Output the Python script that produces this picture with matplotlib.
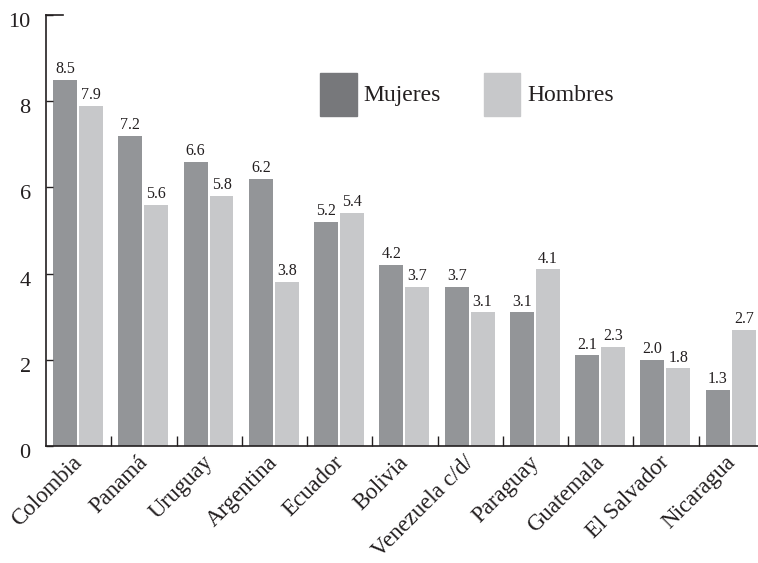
import matplotlib.pyplot as plt
import matplotlib.transforms as mtransforms
import numpy as np
from matplotlib.patches import Patch

plt.rcParams['font.family'] = ['Liberation Serif', 'DejaVu Serif']

paises = ['Colombia', 'Panamá', 'Uruguay', 'Argentina', 'Ecuador', 'Bolivia',
          'Venezuela c/d/', 'Paraguay', 'Guatemala', 'El Salvador', 'Nicaragua']
mujeres = [8.5, 7.2, 6.6, 6.2, 5.2, 4.2, 3.7, 3.1, 2.1, 2.0, 1.3]
hombres = [7.9, 5.6, 5.8, 3.8, 5.4, 3.7, 3.1, 4.1, 2.3, 1.8, 2.7]

c_muj = '#939598'
c_hom = '#c7c8ca'
c_txt = '#231f20'

fig = plt.figure(figsize=(7.58, 5.63), dpi=100)
ax = fig.add_axes([46 / 758, 1 - 446 / 563, 718 / 758, 431 / 563])

x = np.arange(len(paises))
w = 0.367
b1 = ax.bar(x - 0.209, mujeres, w, color=c_muj)
b2 = ax.bar(x + 0.189, hombres, w, color=c_hom)
ax.bar_label(b1, fmt='%.1f', padding=2, fontsize=11.5, color=c_txt)
ax.bar_label(b2, fmt='%.1f', padding=2, fontsize=11.5, color=c_txt)

ax.set_xlim(-0.5, len(paises) - 0.5)
ax.set_ylim(0, 10)
ax.set_yticks([0, 2, 4, 6, 8, 10])
ax.set_xticks(x)
ax.set_xticklabels(paises, rotation=45, ha='right', rotation_mode='anchor',
                   fontsize=16.5, color=c_txt)
ax.set_xticks(x[:-1] + 0.5, minor=True)
ax.tick_params(axis='x', which='major', length=0, pad=4)
ax.tick_params(axis='x', which='minor', direction='in', length=7, width=1, color=c_txt)
ax.tick_params(axis='y', direction='in', length=5, width=1, labelsize=16, pad=11,
               color=c_txt, labelcolor=c_txt)
ax.axhline(10, xmin=0, xmax=17 / 718, color=c_txt, lw=1.2, clip_on=False)

# small offsets so labels sit like in the original
off_x = mtransforms.ScaledTranslation(-7 / 100, 0, fig.dpi_scale_trans)
for lab in ax.get_xticklabels():
    lab.set_transform(lab.get_transform() + off_x)
off_y = mtransforms.ScaledTranslation(0, -5 / 100, fig.dpi_scale_trans)
for lab in ax.get_yticklabels():
    lab.set_transform(lab.get_transform() + off_y)

for s in ['top', 'right']:
    ax.spines[s].set_visible(False)
for s in ['left', 'bottom']:
    ax.spines[s].set_linewidth(1.2)
    ax.spines[s].set_color(c_txt)

handles = [Patch(color='#77787b', label='Mujeres'), Patch(color=c_hom, label='Hombres')]
ax.legend(handles=handles, ncol=2, frameon=False, fontsize=17, labelcolor=c_txt,
          loc='upper left', bbox_to_anchor=(0.352, 0.915),
          handlelength=1.55, handleheight=2.4, handletextpad=0.3, columnspacing=1.8)

fig.savefig('out.png', dpi=100)
